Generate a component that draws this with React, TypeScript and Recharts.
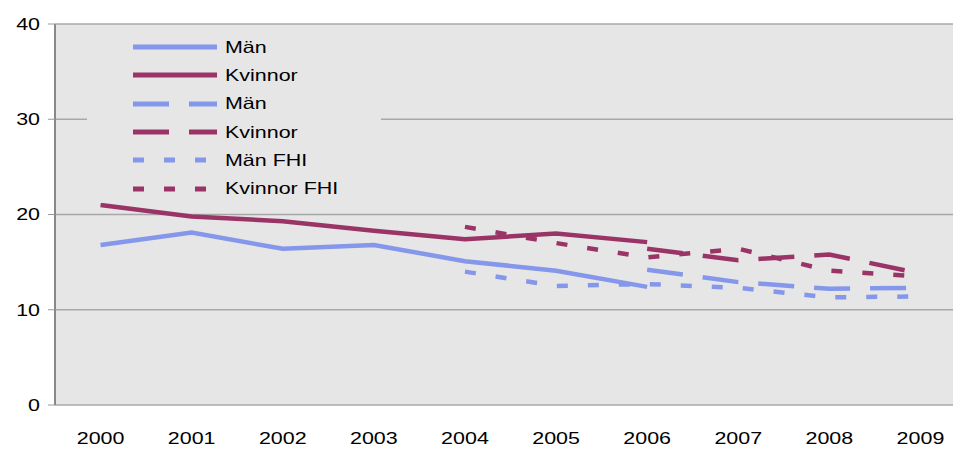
import { LineChart, Line, XAxis, YAxis, CartesianGrid, Legend } from "recharts";

const years = ["2000", "2001", "2002", "2003", "2004", "2005", "2006", "2007", "2008", "2009"];
const manSolid = [16.8, 18.1, 16.4, 16.8, 15.1, 14.1, 12.4, null, null, null];
const kvinnorSolid = [21.0, 19.8, 19.3, 18.3, 17.4, 18.0, 17.1, null, null, null];
const manDashed = [null, null, null, null, null, null, 14.2, 12.9, 12.2, 12.3];
const kvinnorDashed = [null, null, null, null, null, null, 16.4, 15.2, 15.8, 13.8];
const manFhi = [null, null, null, null, 14.0, 12.5, 12.7, 12.3, 11.3, 11.4];
const kvinnorFhi = [null, null, null, null, 18.7, 17.0, 15.5, 16.4, 14.1, 13.5];
const yTicks = [0, 10, 20, 30, 40];

const BLUE = "#8497ea";
const PURPLE = "#9b3466";
const FONT = "'Liberation Sans', Arial, sans-serif";
const STRETCH = 1.3; // text in the picture is wider than plain Arial

const series = [
  { key: "manSolid", name: "Män", color: BLUE, dash: undefined },
  { key: "kvinnorSolid", name: "Kvinnor", color: PURPLE, dash: undefined },
  { key: "manDashed", name: "Män", color: BLUE, dash: "36 20" },
  { key: "kvinnorDashed", name: "Kvinnor", color: PURPLE, dash: "36 20" },
  { key: "manFhi", name: "Män FHI", color: BLUE, dash: "11 20" },
  { key: "kvinnorFhi", name: "Kvinnor FHI", color: PURPLE, dash: "11 20" },
];

const data = years.map((year, i) => ({
  x: i,
  year,
  manSolid: manSolid[i],
  kvinnorSolid: kvinnorSolid[i],
  manDashed: manDashed[i],
  kvinnorDashed: kvinnorDashed[i],
  manFhi: manFhi[i],
  kvinnorFhi: kvinnorFhi[i],
}));

const boundaryTicks = years.map((_, i) => i - 0.5).concat(years.length - 0.5);
const centerTicks = years.map((_, i) => i);

function XTick({ x, y, payload }: any) {
  return (
    <g transform={`translate(${x},${y + 37}) scale(${STRETCH},1)`}>
      <text textAnchor="middle" fontFamily={FONT} fontSize={16.5} fill="#000">
        {years[payload.value]}
      </text>
    </g>
  );
}

function YTick({ x, y, payload }: any) {
  return (
    <g transform={`translate(${x},${y}) scale(${STRETCH},1)`}>
      <text textAnchor="end" dy="0.36em" fontFamily={FONT} fontSize={16.5} fill="#000">
        {payload.value}
      </text>
    </g>
  );
}

function LegendBox() {
  return (
    <div style={{ background: "#e6e6e6", width: 294 }}>
      {series.map((s) => (
        <div key={s.key} style={{ height: 28.3, display: "flex", alignItems: "center" }}>
          <svg width={132} height={10} style={{ flex: "none" }}>
            <line x1={46} x2={130} y1={5} y2={5} stroke={s.color} strokeWidth={5} strokeDasharray={s.dash} />
          </svg>
          <span
            style={{
              fontFamily: FONT,
              fontSize: 16.5,
              color: "#000",
              display: "inline-block",
              transform: `scaleX(${STRETCH})`,
              transformOrigin: "left center",
              marginLeft: 6,
              whiteSpace: "nowrap",
            }}
          >
            {s.name}
          </span>
        </div>
      ))}
    </div>
  );
}

export default function App() {
  return (
    <div style={{ position: "fixed", left: 0, top: 0, width: 953, height: 449, overflow: "hidden", background: "#fff" }}>
      <LineChart width={980} height={449} data={data} margin={{ top: 24, right: 14, bottom: 0, left: 0 }}>
        <CartesianGrid xAxisId="ticks" vertical={false} fill="#e6e6e6" stroke="#a8a8a8" strokeWidth={1.5} />
        <XAxis
          xAxisId="ticks"
          type="number"
          dataKey="x"
          domain={[-0.5, years.length - 0.5]}
          ticks={boundaryTicks}
          interval={0}
          tickFormatter={() => ""}
          height={0}
          tickSize={8}
          axisLine={{ stroke: "#888", strokeWidth: 2 }}
          tickLine={{ stroke: "#999" }}
        />
        <XAxis
          xAxisId="labels"
          type="number"
          dataKey="x"
          domain={[-0.5, years.length - 0.5]}
          ticks={centerTicks}
          interval={0}
          axisLine={false}
          tickLine={false}
          tickSize={0}
          height={44}
          tick={<XTick />}
        />
        <YAxis
          width={55}
          domain={[0, 40]}
          ticks={yTicks}
          interval={0}
          tickSize={7}
          tickMargin={8}
          axisLine={{ stroke: "#888", strokeWidth: 2 }}
          tickLine={{ stroke: "#999" }}
          tick={<YTick />}
        />
        <Legend
          layout="vertical"
          align="center"
          verticalAlign="middle"
          content={() => <LegendBox />}
          wrapperStyle={{ left: 87, top: 33, width: 294 }}
        />
        {series.map((s) => (
          <Line
            key={s.key}
            xAxisId="ticks"
            type="linear"
            dataKey={s.key}
            name={s.name}
            stroke={s.color}
            strokeWidth={4.5}
            strokeDasharray={s.dash}
            dot={false}
            activeDot={false}
            isAnimationActive={false}
          />
        ))}
      </LineChart>
    </div>
  );
}
